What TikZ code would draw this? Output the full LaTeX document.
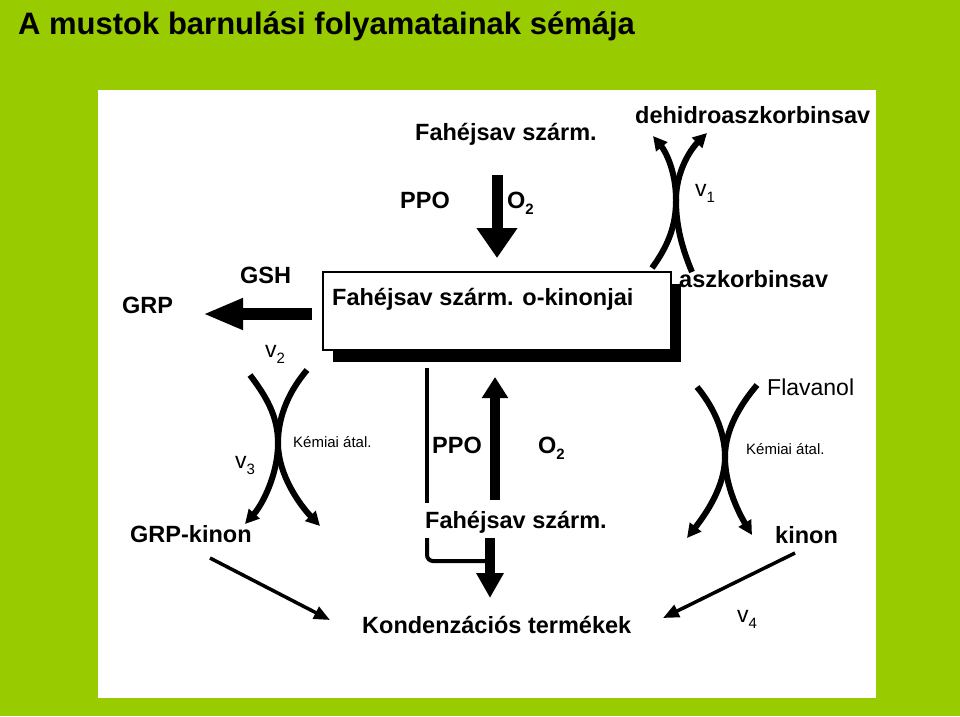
\documentclass[tikz,border=0pt]{standalone}
\usepackage{fontspec}
\setmainfont{Liberation Sans}
\usetikzlibrary{arrows.meta}
\definecolor{bggreen}{RGB}{153,204,0}
\newcommand\mysub[1]{\raisebox{-6pt}{\fontsize{15}{15}\selectfont #1}}
\begin{document}
\begin{tikzpicture}[x=1pt,y=-1pt,
  lbl/.style={anchor=base west,inner sep=0pt,font=\fontsize{23.5}{24}\selectfont\bfseries},
  rlbl/.style={anchor=base west,inner sep=0pt,font=\fontsize{23}{24}\selectfont},
  smalllbl/.style={anchor=base west,inner sep=0pt,font=\fontsize{15}{16}\selectfont},
  titlelbl/.style={anchor=base west,inner sep=0pt,font=\fontsize{31}{32}\selectfont\bfseries},
  xcurve/.style={line width=6pt,-{Triangle[length=14pt,width=14pt]}},
  blockarrow/.style={line width=#1},
  diag/.style={line width=3.5pt,-{Triangle[length=16pt,width=13pt]}},
  thinline/.style={line width=4pt}]
\fill[bggreen] (0,0) rectangle (960,716);
\fill[white] (98,90) rectangle (876,698);

% title
\node[titlelbl] (title) at (18,34) {A mustok barnulási folyamatainak sémája};

% top labels
\node[lbl] (fahtop) at (415,140) {Fahéjsav szárm.};
\node[lbl] (dehidro) at (635,123) {dehidroaszkorbinsav};
\node[lbl] (ppotop) at (400,208) {PPO};
\node[lbl] (o2top) at (507,208) {O\mysub{2}};
\node[rlbl] (v1) at (695,196) {v\mysub{1}};
\node[lbl] (aszk) at (679,287) {aszkorbinsav};
\node[lbl] (gsh) at (240,283) {GSH};
\node[lbl] (grp) at (122,313) {GRP};
\node[rlbl] (v2) at (265,357) {v\mysub{2}};

% box with shadow
\fill (333,284) rectangle (681,362);
\draw[line width=2pt,fill=white] (323,272) rectangle (671,350);
\node[lbl] (box) at (332,305) {Fahéjsav szárm. o-kinonjai};

% middle labels
\node[smalllbl] (kem1) at (293,447) {Kémiai átal.};
\node[rlbl] (v3) at (235,468) {v\mysub{3}};
\node[lbl] (ppomid) at (432,453) {PPO};
\node[lbl] (o2mid) at (538,453) {O\mysub{2}};
\node[lbl] (fahmid) at (425,528) {Fahéjsav szárm.};
\node[lbl] (grpkinon) at (130,542) {GRP-kinon};
\node[rlbl] (flav) at (767,395) {Flavanol};
\node[smalllbl] (kem2) at (746,454) {Kémiai átal.};
\node[lbl] (kinon) at (775,543) {kinon};
\node[lbl] (kond) at (362,633) {Kondenzációs termékek};
\node[rlbl] (v4) at (737,622) {v\mysub{4}};

% block arrows
\coordinate (a1s) at (497,175); \coordinate (a1e) at (497,258);
\draw[blockarrow=11pt,-{Triangle[length=30pt,width=39pt]}] (a1s) -- (a1e);
\coordinate (a2s) at (312,314); \coordinate (a2e) at (203,314);
\draw[blockarrow=12pt,-{Triangle[length=40pt,width=29pt]}] (a2s) -- (a2e);
\coordinate (a3s) at (495,500); \coordinate (a3e) at (495,377);
\draw[blockarrow=10pt,-{Triangle[length=21pt,width=25pt]}] (a3s) -- (a3e);
\coordinate (a4s) at (490,538); \coordinate (a4e) at (490,598);
\draw[blockarrow=10pt,-{Triangle[length=25pt,width=26pt]}] (a4s) -- (a4e);
\coordinate (l1s) at (427,368); \coordinate (l1e) at (427,503);
\draw[thinline] (l1s) -- (l1e);
\coordinate (l2s) at (427,538); \coordinate (l2e) at (490,561);
\draw[thinline,rounded corners=6pt] (l2s) |- (l2e);

% diagonal arrows
\coordinate (d1s) at (210,558); \coordinate (d1e) at (330,620);
\draw[diag] (d1s) -- (d1e);
\coordinate (d2s) at (795,553); \coordinate (d2e) at (663,618);
\draw[diag] (d2s) -- (d2e);

% top X (v1)
\coordinate (c1) at (676,200);
\draw[xcurve] (652,268) .. controls (668,246) and (676,226) .. (c1) .. controls (676,172) and (690,150) .. (707,133);
\draw[xcurve] (692,272) .. controls (682,248) and (676,226) .. (c1) .. controls (676,172) and (666,152) .. (653,136);

% left X (v2, v3)
\coordinate (c2) at (278,443);
\draw[xcurve] (307,370) .. controls (290,390) and (278,415) .. (c2) .. controls (278,475) and (262,505) .. (245,524);
\draw[xcurve] (250,375) .. controls (265,395) and (278,415) .. (c2) .. controls (278,475) and (300,505) .. (320,526);

% right X (flavanol)
\coordinate (c3) at (725,457);
\draw[xcurve] (697,387) .. controls (712,405) and (725,430) .. (c3) .. controls (725,487) and (740,515) .. (752,535);
\draw[xcurve] (757,385) .. controls (740,405) and (725,430) .. (c3) .. controls (725,487) and (705,515) .. (687,538);
\end{tikzpicture}
\end{document}
